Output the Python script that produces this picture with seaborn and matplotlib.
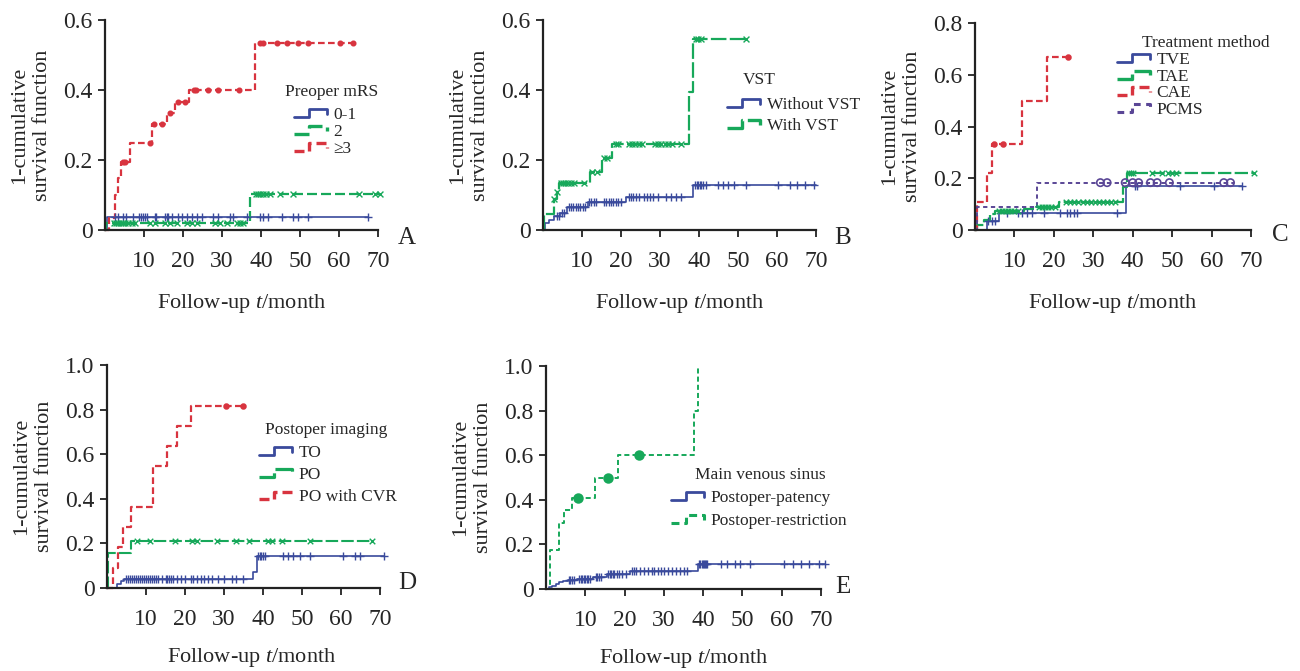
import numpy as np
import pandas as pd
import seaborn as sns
import matplotlib
matplotlib.use('Agg')
import matplotlib.pyplot as plt
from matplotlib.lines import Line2D
from matplotlib.legend_handler import HandlerBase

# ---- panel A: preoperative mRS ----
a_t_01 = [0, 0.5, 67.5]
a_v_01 = [0, 0.038, 0.038]
a_c_01 = [2.6, 3.4, 4.7, 5.4, 7.3, 8.8, 9.3, 9.8, 10.3, 10.7, 12.8, 13.2, 15.4, 15.8, 16.2, 17.1,
          18.8, 19.7, 20.9, 22.2, 23.5, 24.8, 27.8, 29.1, 32.0, 32.9, 36.3, 39.7, 40.6, 41.9,
          45.3, 48.3, 49.6, 52.1, 67.5]
a_t_2 = [0, 0.3, 37.2, 70.5]
a_v_2 = [0, 0.021, 0.103, 0.103]
a_c_2 = [2.2, 2.8, 3.4, 4.0, 4.6, 5.2, 6.0, 6.8, 7.6, 11.5, 12.8, 15.4, 16.7, 18.4, 20.9, 22.2,
         23.5, 28.2, 29.5, 31.2, 33.8, 34.6, 35.5, 38.6, 39.2, 39.8, 40.4, 41.2, 42.3, 44.9,
         48.1, 65.0, 69.2, 70.5]
a_t_3 = [0, 1.0, 2.6, 3.3, 4.2, 6.3, 12.0, 15.8, 18.0, 21.5, 38.5, 63.7]
a_v_3 = [0, 0.035, 0.10, 0.15, 0.195, 0.248, 0.302, 0.333, 0.365, 0.40, 0.533, 0.533]
a_c_3 = [4.6, 5.2, 11.5, 12.6, 14.6, 16.6, 18.6, 20.5, 22.8, 23.4, 26.4, 29.0, 34.3, 39.7,
         40.5, 44.0, 46.6, 49.6, 52.0, 60.3, 63.7]

# ---- panel B: VST ----
b_t_wo = [0, 0.5, 1.5, 2.8, 4.3, 6.2, 11.5, 21.4, 38.5, 70.0]
b_v_wo = [0, 0.02, 0.03, 0.04, 0.05, 0.067, 0.081, 0.095, 0.13, 0.13]
b_c_wo = [3.6, 4.2, 4.8, 5.4, 6.6, 7.2, 7.8, 8.4, 9.0, 9.6, 10.2, 10.8, 11.8, 12.4, 13.0, 13.6,
          15.6, 16.2, 16.8, 17.4, 18.0, 18.6, 19.2, 19.9, 22.0, 22.6, 23.2, 23.8, 24.6, 26.0,
          26.6, 27.4, 28.2, 29.5, 31.6, 32.9, 34.2, 35.5, 39.0, 39.4, 39.8, 40.2, 40.6, 41.0,
          41.9, 44.9, 46.2, 47.4, 49.1, 52.1, 60.3, 63.4, 65.0, 67.1, 69.5]
b_t_w = [0, 0.3, 2.8, 3.5, 4.1, 12.0, 15.0, 17.7, 37.4, 38.5, 52.1]
b_v_w = [0, 0.045, 0.09, 0.11, 0.135, 0.167, 0.205, 0.245, 0.395, 0.545, 0.545]
b_c_w = [2.9, 3.6, 4.6, 5.1, 5.7, 6.4, 7.2, 8.0, 10.6, 12.6, 13.8, 15.6, 16.4, 18.6, 19.2, 22.0,
         22.8, 23.6, 24.5, 25.5, 28.6, 29.4, 30.3, 31.2, 32.1, 33.0, 35.5, 39.2, 39.8, 40.4, 52.1]

# ---- panel C: treatment method ----
c_t_tve = [0, 3.0, 6.2, 38.4, 67.8]
c_v_tve = [0, 0.035, 0.065, 0.17, 0.17]
c_c_tve = [3.4, 4.2, 5.1, 8.0, 11.0, 11.9, 13.1, 14.4, 17.4, 21.5, 23.3, 24.2, 25.0, 25.8,
           36.0, 40.6, 41.1, 52.1, 60.6, 67.8]
c_t_tae = [0, 0.5, 2.2, 3.8, 5.0, 12.5, 15.5, 21.4, 37.5, 38.6, 70.8]
c_v_tae = [0, 0.02, 0.04, 0.06, 0.075, 0.083, 0.09, 0.11, 0.165, 0.22, 0.22]
c_c_tae = [6.0, 6.8, 7.6, 8.4, 9.2, 10.0, 11.0, 16.2, 17.0, 17.8, 18.6, 19.4, 20.2, 23.0, 24.0,
           25.0, 26.2, 27.5, 28.5, 29.5, 30.5, 31.5, 32.5, 33.5, 34.5, 35.5, 39.0, 39.5, 40.0,
           45.0, 47.5, 49.0, 50.0, 51.0, 70.8]
c_t_cae = [0, 0.5, 3.0, 4.2, 11.9, 18.2, 23.5]
c_v_cae = [0, 0.11, 0.22, 0.333, 0.50, 0.667, 0.667]
c_c_cae = [4.7, 7.2, 23.5]
c_t_pcms = [0, 0.4, 15.7, 65.7]
c_v_pcms = [0, 0.09, 0.183, 0.183]
c_c_pcms = [31.8, 33.5, 38.1, 40.0, 41.5, 44.5, 46.2, 49.3, 63.1, 64.8]

# ---- panel D: postoperative imaging ----
d_t_to = [0, 2.5, 3.5, 4.3, 37.5, 38.4, 71.0]
d_v_to = [0, 0.02, 0.03, 0.04, 0.073, 0.145, 0.145]
d_c_to = [4.8, 5.3, 5.8, 6.3, 7.0, 7.5, 8.0, 8.5, 9.0, 9.5, 10.0, 10.5, 11.0, 11.5, 12.0, 12.5,
          13.0, 14.0, 15.0, 15.5, 16.0, 16.5, 17.0, 18.0, 19.0, 20.0, 21.5, 22.0, 23.0, 24.0,
          25.0, 26.0, 27.0, 28.5, 30.0, 32.0, 33.0, 35.0, 38.8, 39.2, 39.6, 40.0, 40.4, 45.2,
          46.5, 47.8, 49.5, 52.0, 60.6, 63.6, 64.9, 70.9]
d_t_po = [0, 0.3, 6.1, 67.9]
d_v_po = [0, 0.158, 0.21, 0.21]
d_c_po = [7.6, 11.0, 17.4, 21.7, 23.0, 28.1, 33.2, 36.5, 41.4, 42.2, 44.8, 52.1, 67.9]
d_t_cvr = [0, 1.5, 2.9, 4.0, 6.1, 11.9, 15.5, 18.0, 21.5, 34.8]
d_v_cvr = [0, 0.091, 0.182, 0.273, 0.364, 0.545, 0.636, 0.727, 0.818, 0.818]
d_c_cvr = [30.5, 34.8]

# ---- panel E: main venous sinus ----
e_t_pat = [0, 0.8, 1.5, 2.5, 3.3, 4.2, 5.5, 8.0, 12.0, 15.4, 21.4, 38.7, 71.0]
e_v_pat = [0, 0.007, 0.015, 0.022, 0.03, 0.036, 0.04, 0.046, 0.055, 0.066, 0.08, 0.11, 0.11]
e_c_pat = [5.8, 6.2, 6.6, 7.0, 8.4, 8.8, 9.2, 9.6, 10.0, 10.4, 10.8, 11.2, 12.6, 13.0, 13.4,
           14.0, 15.8, 16.2, 16.6, 17.0, 17.4, 18.0, 18.6, 19.4, 20.4, 22.0, 22.5, 23.0, 24.0,
           25.0, 26.0, 27.0, 27.6, 28.5, 29.2, 30.0, 31.0, 32.0, 33.0, 34.0, 35.0, 36.0, 39.0,
           39.3, 39.6, 39.9, 40.2, 40.5, 40.8, 41.1, 44.5, 46.0, 48.0, 49.5, 52.0, 60.5, 63.0,
           65.0, 67.0, 69.5, 71.0]
e_t_res = [0, 1.0, 3.4, 4.7, 6.7, 12.5, 18.4, 37.6, 38.7]
e_v_res = [0, 0.176, 0.294, 0.353, 0.41, 0.50, 0.60, 0.80, 1.0]
e_c_res = [8.2, 15.8, 23.7]

x_ticks = [10, 20, 30, 40, 50, 60, 70]

BLUE = '#3a4a9c'
GREEN = '#17a85a'
RED = '#d8343f'
PURPLE = '#5a4696'

sns.set_style('ticks')
plt.rcParams['font.family'] = ['Liberation Serif', 'DejaVu Serif']
plt.rcParams['mathtext.fontset'] = 'custom'
plt.rcParams['mathtext.rm'] = 'Liberation Serif'
plt.rcParams['mathtext.it'] = 'Liberation Serif:italic'


class StepHandler(HandlerBase):
    # legend key drawn as a small step, like SPSS survival plots
    def create_artists(self, legend, orig_handle, xdescent, ydescent, width, height, fontsize, trans):
        x0, y0 = -xdescent, -ydescent
        xs = [x0, x0 + 0.45 * width, x0 + 0.45 * width, x0 + width, x0 + width]
        ys = [y0 + 0.15 * height, y0 + 0.15 * height, y0 + 0.8 * height, y0 + 0.8 * height, y0 + 0.4 * height]
        ln = Line2D(xs, ys)
        ln.update_from(orig_handle)
        ln.set_marker('')
        ln.set_transform(trans)
        return [ln]


W, H = 1300, 671
fig = plt.figure(figsize=(13, 6.71), dpi=100)


def make_ax(x0, x1, ytop, ybot):
    return fig.add_axes([x0 / W, 1 - ybot / H, (x1 - x0) / W, (ybot - ytop) / H])


def km(ax, t, v, cens, color, ls, lw, marker, ms, mfill=True):
    df = pd.DataFrame({'t': t, 'v': v})
    sns.lineplot(data=df, x='t', y='v', ax=ax, color=color, linestyle=ls, linewidth=lw,
                 drawstyle='steps-post', estimator=None, sort=False, errorbar=None)
    # censor marks sit on the step value at their time
    idx = np.searchsorted(t, cens, side='right') - 1
    cv = np.array(v)[idx]
    cdf = pd.DataFrame({'t': cens, 'v': cv})
    if marker in ('+', 'x'):
        sns.scatterplot(data=cdf, x='t', y='v', ax=ax, marker=marker, color=color, s=ms,
                        linewidth=1.0, zorder=4)
    else:
        sns.scatterplot(data=cdf, x='t', y='v', ax=ax, marker=marker, s=ms, zorder=4,
                        facecolor=color if mfill else 'none', edgecolor=color, linewidth=1.2)
    return Line2D([], [], color=color, linestyle=ls, linewidth=lw + 0.8)


def style_ax(ax, ymax, yticks, yticklabels, letter, lx, ly, xlab_x=0.5, xlab_off=62):
    ax.set_xlim(0, 70)
    ax.set_ylim(0, ymax)
    ax.set_xticks(x_ticks)
    ax.set_yticks(yticks)
    ax.set_yticklabels(yticklabels)
    for ln in ax.lines:
        ln.set_clip_on(False)
    for c in ax.collections:
        c.set_clip_on(False)
    sns.despine(ax=ax)
    for s in ('left', 'bottom'):
        ax.spines[s].set_linewidth(1.6)
        ax.spines[s].set_color('#222222')
    ax.tick_params(axis='both', labelsize=17, width=1.3, length=5, color='#222222')
    ax.tick_params(axis='x', pad=10)
    ax.tick_params(axis='y', pad=4)
    ax.set_xlabel('Follow-up $t$/month', fontsize=16)
    ax.set_ylabel('1-cumulative\nsurvival function', fontsize=16, linespacing=1.3)
    bb = ax.get_position()
    hpx = bb.height * H
    wpx = bb.width * W
    ax.xaxis.set_label_coords(xlab_x, -xlab_off / hpx)
    ax.yaxis.set_label_coords(-53 / wpx, 0.5)
    fig.text(lx / W, 1 - ly / H, letter, fontsize=18, ha='center', va='center')


def add_legend(ax, handles, labels, title, tx, ty, hx, hy, spacing):
    fig.text(tx / W, 1 - ty / H, title, fontsize=12.5, ha='left', va='center')
    ax.legend(handles, labels, loc='upper left', bbox_to_anchor=(hx / W, 1 - hy / H),
              bbox_transform=fig.transFigure, frameon=False, fontsize=12.5, borderpad=0,
              handlelength=1.9, handletextpad=0.4, labelspacing=spacing,
              handler_map={Line2D: StepHandler()})


# ---- A ----
axA = make_ax(105, 378, 20, 230)
h1 = km(axA, a_t_01, a_v_01, a_c_01, BLUE, '-', 1.2, '+', 30)
h2 = km(axA, a_t_2, a_v_2, a_c_2, GREEN, (0, (4.5, 1.8)), 1.6, 'x', 18)
h3 = km(axA, a_t_3, a_v_3, a_c_3, RED, (0, (3, 1.5)), 1.6, 'o', 10)
style_ax(axA, 0.6, [0, 0.2, 0.4, 0.6], ['0', '0.2', '0.4', '0.6'], 'A', 407, 238)
add_legend(axA, [h1, h2, h3], ['0-1', '2', '≥3'], 'Preoper mRS', 285, 92, 285, 98, 0.05)

# ---- B ----
axB = make_ax(543, 816, 20, 230)
h1 = km(axB, b_t_wo, b_v_wo, b_c_wo, BLUE, '-', 1.2, '+', 30)
h2 = km(axB, b_t_w, b_v_w, b_c_w, GREEN, (0, (7, 1.5)), 1.6, 'x', 18)
style_ax(axB, 0.6, [0, 0.2, 0.4, 0.6], ['0', '0.2', '0.4', '0.6'], 'B', 843, 238)
add_legend(axB, [h1, h2], ['Without VST', 'With VST'], 'VST', 743, 80, 718, 88, 0.3)

# ---- C ----
axC = make_ax(975, 1251, 23, 230)
h1 = km(axC, c_t_tve, c_v_tve, c_c_tve, BLUE, '-', 1.2, '+', 28)
h2 = km(axC, c_t_tae, c_v_tae, c_c_tae, GREEN, (0, (6, 1.5)), 1.6, 'x', 16)
h3 = km(axC, c_t_cae, c_v_cae, c_c_cae, RED, (0, (3, 1.5)), 1.6, 'o', 12)
h4 = km(axC, c_t_pcms, c_v_pcms, c_c_pcms, PURPLE, (0, (2.2, 1.8)), 1.4, 'o', 28, mfill=False)
style_ax(axC, 0.8, [0, 0.2, 0.4, 0.6, 0.8], ['0', '0.2', '0.4', '0.6', '0.8'], 'C', 1280, 235)
add_legend(axC, [h1, h2, h3, h4], ['TVE', 'TAE', 'CAE', 'PCMS'], 'Treatment method',
           1142, 43, 1108, 43, 0.03)

# ---- D ----
axD = make_ax(107, 380, 365, 588)
h1 = km(axD, d_t_to, d_v_to, d_c_to, BLUE, '-', 1.2, '+', 30)
h2 = km(axD, d_t_po, d_v_po, d_c_po, GREEN, (0, (6, 1.5)), 1.5, 'x', 16)
h3 = km(axD, d_t_cvr, d_v_cvr, d_c_cvr, RED, (0, (3, 1.5)), 1.6, 'o', 12)
style_ax(axD, 1.0, [0, 0.2, 0.4, 0.6, 0.8, 1.0], ['0', '0.2', '0.4', '0.6', '0.8', '1.0'],
         'D', 407, 583, xlab_x=0.53, xlab_off=58)
add_legend(axD, [h1, h2, h3], ['TO', 'PO', 'PO with CVR'], 'Postoper imaging',
           265, 430, 250, 436, 0.35)

# ---- E ----
axE = make_ax(546, 821, 366, 589)
h1 = km(axE, e_t_pat, e_v_pat, e_c_pat, BLUE, '-', 1.2, '+', 28)
h2 = km(axE, e_t_res, e_v_res, e_c_res, GREEN, (0, (2.6, 1.6)), 1.4, 'o', 40)
style_ax(axE, 1.0, [0, 0.2, 0.4, 0.6, 0.8, 1.0], ['0', '0.2', '0.4', '0.6', '0.8', '1.0'],
         'E', 843, 587, xlab_off=58)
add_legend(axE, [h1, h2], ['Postoper-patency', 'Postoper-restriction'], 'Main venous sinus',
           695, 475, 662, 481, 0.4)

fig.savefig('out.png', dpi=100)
